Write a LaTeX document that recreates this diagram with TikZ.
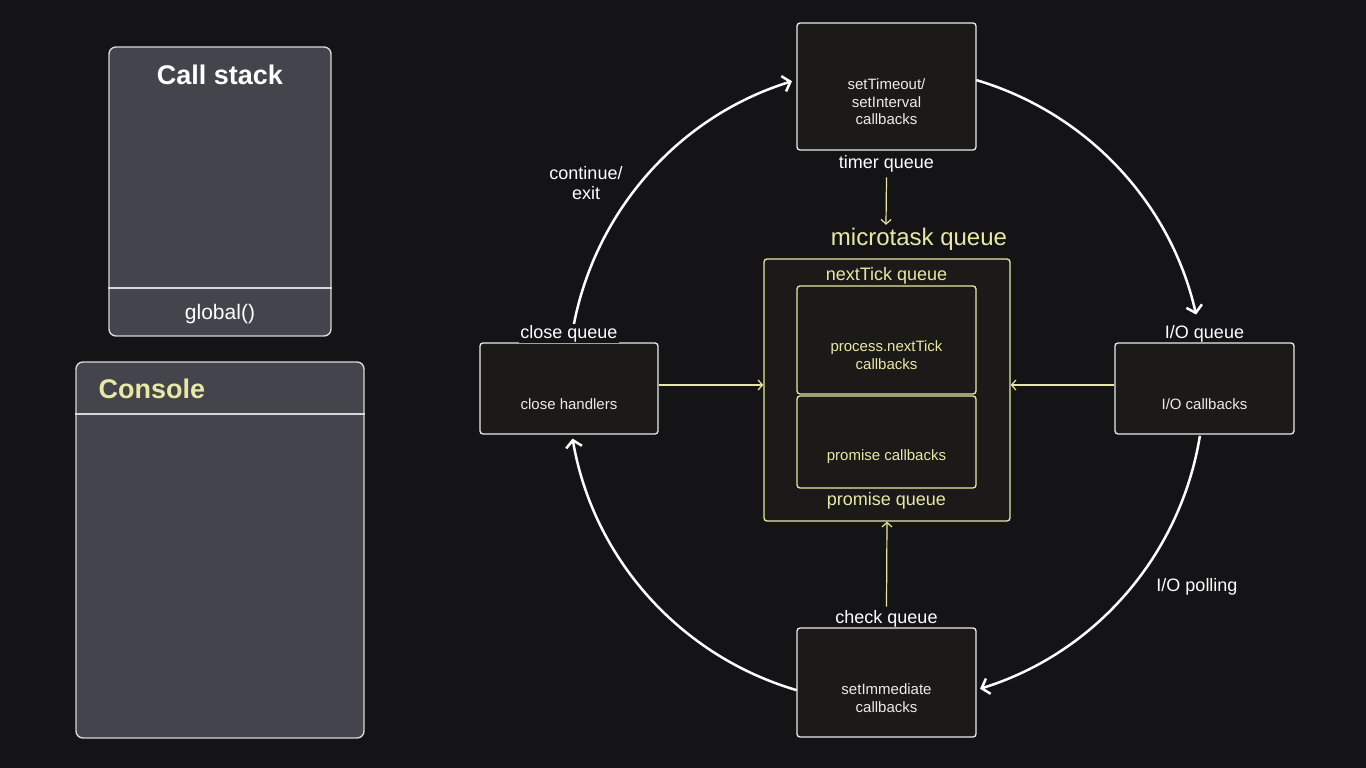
\documentclass[tikz,border=0pt]{standalone}
\usepackage{fontspec}
\setmainfont{Liberation Sans}
\usetikzlibrary{arrows.meta,calc}
\definecolor{bg}{RGB}{20,20,22}
\definecolor{boxfill}{RGB}{27,26,25}
\definecolor{edge}{RGB}{235,235,235}
\definecolor{yel}{RGB}{232,232,165}
\definecolor{panel}{RGB}{68,68,76}
\definecolor{paneledge}{RGB}{215,215,218}
\begin{document}
\begin{tikzpicture}[x=1pt,y=1pt,
  qbox/.style={draw=edge,fill=boxfill,line width=1.3pt,rounded corners=3pt,minimum width=#1,inner sep=0pt},
  ybox/.style={draw=yel,fill=boxfill,line width=1.3pt,rounded corners=3pt,inner sep=0pt},
  panelbox/.style={draw=paneledge,fill=panel,line width=1.4pt,rounded corners=7pt,inner sep=0pt},
  inner/.style={text=edge,align=center,font=\fontsize{15}{17.5}\selectfont},
  yinner/.style={text=yel,align=center,font=\fontsize{15}{17.5}\selectfont},
  lab/.style={text=white,align=center,font=\fontsize{18}{20}\selectfont},
  ylab/.style={text=yel,align=center,font=\fontsize{18}{20}\selectfont},
  cyc/.style={draw=white,line width=2.5pt,-{Straight Barb[length=7pt,width=16pt,line width=2.5pt]}},
  yarr/.style={draw=yel,line width=1.2pt,-{Straight Barb[length=4.5pt,width=10pt,line width=1.2pt]}}
]
\fill[bg] (0,0) rectangle (1366,768);
\useasboundingbox (0,0) rectangle (1366,768);

% ---------- left panels ----------
\node[panelbox,minimum width=222pt,minimum height=289pt] (stack) at (220,576.5) {};
\draw[paneledge,line width=1.3pt] (stack.west |- 0,480) -- (stack.east |- 0,480);
\node[text=white,font=\fontsize{27}{30}\selectfont\bfseries] (stacktitle) at (220,693) {Call stack};
\node[text=white,font=\fontsize{21}{24}\selectfont] (global) at (220,454) {global()};

\node[panelbox,minimum width=288pt,minimum height=376pt] (console) at (220,218) {};
\draw[paneledge,line width=1.3pt] (console.west |- 0,354) -- (console.east |- 0,354);
\node[text=yel,anchor=west,font=\fontsize{27}{30}\selectfont\bfseries] (contitle) at (95,379) {Console};

% ---------- queue boxes ----------
\node[qbox=179pt,minimum height=127pt] (timer) at (886.5,681.5) {};
\node[inner] (timertxt) at (886.5,666) {setTimeout/\\setInterval\\callbacks};
\node[lab] (timerlab) at (886.5,604.5) {timer queue};

\node[qbox=178pt,minimum height=91pt] (close) at (569,379.5) {};
\node[inner] (closetxt) at (569,364) {close handlers};
\node[lab] (closelab) at (569,434.5) {close queue};

\node[qbox=179pt,minimum height=91pt] (io) at (1204.5,379.5) {};
\node[inner] (iotxt) at (1204.5,364) {I/O callbacks};
\node[lab] (iolab) at (1204.5,434.5) {I/O queue};

\node[qbox=179pt,minimum height=109pt] (check) at (886.5,85.5) {};
\node[inner] (checktxt) at (886.5,70) {setImmediate\\callbacks};
\node[lab] (checklab) at (886.5,149.5) {check queue};

% ---------- microtask ----------
\node[ybox,minimum width=246pt,minimum height=262pt] (micro) at (887,378) {};
\node[text=yel,font=\fontsize{24}{26}\selectfont] (microlab) at (919,528.5) {microtask queue};
\node[ybox,minimum width=179pt,minimum height=108pt] (tick) at (886.5,428) {};
\node[yinner] (ticktxt) at (886.5,413) {process.nextTick\\callbacks};
\node[ylab] (ticklab) at (886.5,492.5) {nextTick queue};
\node[ybox,minimum width=179pt,minimum height=92pt] (prom) at (886.5,326) {};
\node[yinner] (promtxt) at (886.5,311) {promise callbacks};
\node[ylab] (promlab) at (886.5,267.5) {promise queue};

% ---------- yellow arrows ----------
\draw[yarr] (timerlab.south) ++(0,-2) -- ($(microlab.north)+(-33,0)$);
\draw[yarr] ($(close.east)+(0,3.5)$) -- ($(close.east -| micro.west)+(0,3.5)$);
\draw[yarr] ($(io.west)+(0,3.5)$) -- ($(io.west -| micro.east)+(0,3.5)$);
\draw[yarr] (checklab.north) -- (micro.south);

% ---------- cycle ----------
\coordinate (c) at (886,383);
\draw[cyc] ($(c)+(169.1:318)$) arc[start angle=169.1,end angle=107.2,radius=318];
\draw[cyc] ($(c)+(73.5:318)$) arc[start angle=73.5,end angle=12.8,radius=318];
\draw[cyc] ($(c)+(-9.2:318)$) arc[start angle=-9.2,end angle=-72.8,radius=318];
\draw[cyc] ($(c)+(-106.3:318)$) arc[start angle=-106.3,end angle=-170.3,radius=318];
% redraw label over the arc end
\node[lab,fill=bg,inner sep=1pt] at (closelab) {close queue};

\node[lab] (contlab) at (586,585) {continue/\\exit};
\node[lab] (polllab) at (1197,181) {I/O polling};
\end{tikzpicture}
\end{document}
